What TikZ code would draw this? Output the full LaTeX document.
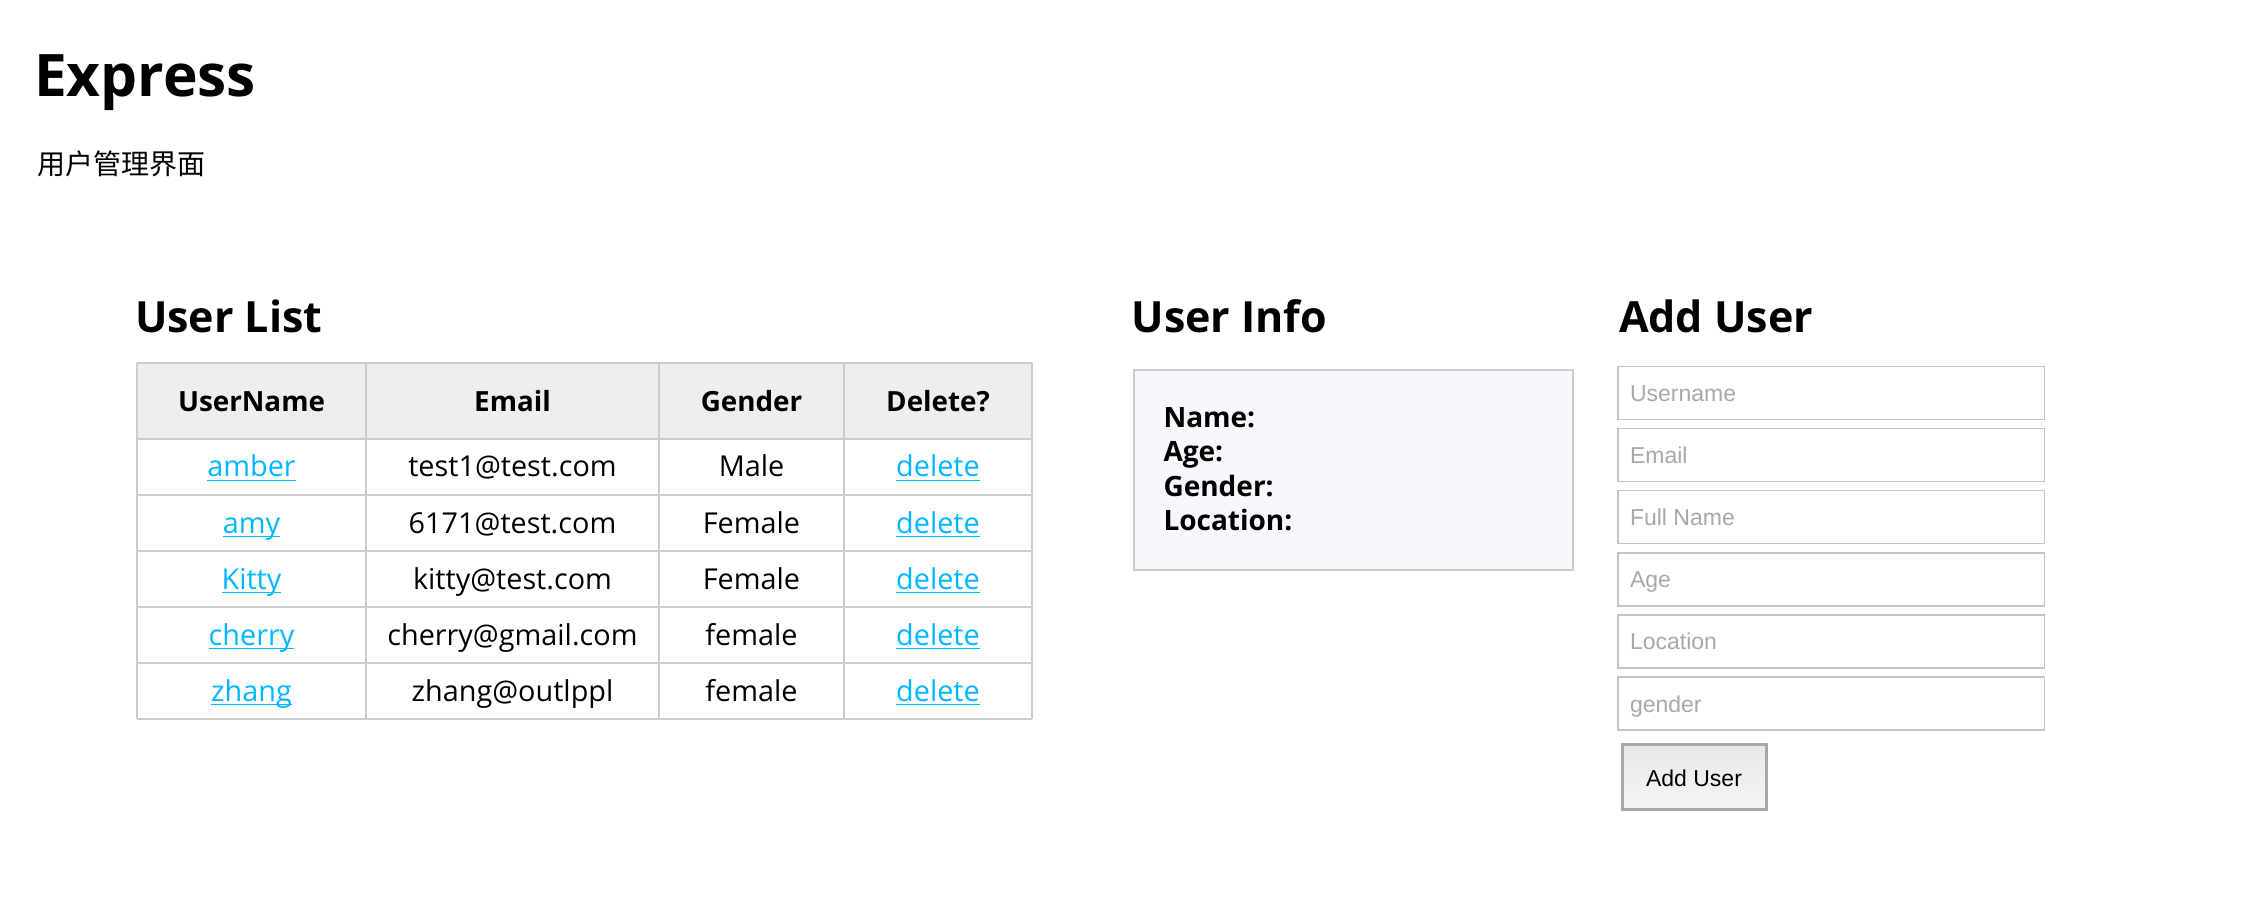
\documentclass[tikz,border=0pt]{standalone}
\usepackage{fontspec}
\setmainfont{Open Sans}
\newfontfamily\cjk{Noto Sans CJK SC}
\newfontfamily\hv{Liberation Sans}
\definecolor{linkc}{HTML}{00B7FF}
\definecolor{gridc}{HTML}{CCCCCC}
\definecolor{headc}{HTML}{EEEEEE}
\definecolor{infofill}{HTML}{F7F8FE}
\definecolor{phgrey}{HTML}{A9A9A9}
\definecolor{fieldc}{HTML}{C4C4C4}
\definecolor{btnborder}{HTML}{A8A8A8}
\begin{document}
\begin{tikzpicture}[x=0.5pt,y=-0.5pt,
  every node/.style={inner sep=0pt, outer sep=0pt},
  h1/.style={anchor=base west, font=\fontsize{29.3}{34}\selectfont\bfseries},
  h2/.style={anchor=base west, font=\fontsize{21.5}{25}\selectfont\bfseries},
  sub/.style={anchor=base west, font=\cjk\fontsize{14}{17}\selectfont},
  th/.style={anchor=base, font=\fontsize{13.9}{17}\selectfont\bfseries},
  td/.style={anchor=base, font=\fontsize{14.4}{17}\selectfont},
  lnk/.style={td, text=linkc},
  ul/.style={draw=linkc, line width=0.8pt},
  grid/.style={draw=gridc, line width=1pt},
  info/.style={anchor=base west, font=\fontsize{14}{17}\selectfont\bfseries},
  field/.style={draw=fieldc, line width=0.75pt, fill=white, anchor=north west, minimum width=213.25pt, minimum height=26.5pt},
  ph/.style={anchor=base west, text=phgrey, font=\hv\fontsize{11.5}{14}\selectfont},
  btn/.style={draw=btnborder, line width=1.5pt, top color=black!9, bottom color=black!4, minimum width=72pt, minimum height=32.5pt},
  btntext/.style={anchor=base, font=\hv\fontsize{11.5}{14}\selectfont}
]
\useasboundingbox (0,0) rectangle (2246,924);

% titles
\node[h1] (title) at (34,97) {Express};
\node[sub] (subtitle) at (37,175) {用户管理界面};
\node[h2] (hlist) at (135,333) {User List};
\node[h2] (hinfo) at (1131.5,333) {User Info};
\node[h2] (hadd) at (1619,333) {Add User};

% table
\fill[headc] (137,363) rectangle (1032,439);
\foreach \y in {363,439,495,551,607,663,719} \draw[grid] (137,\y) -- (1032,\y);
\foreach \x in {137,366,659,844,1032} \draw[grid] (\x,363) -- (\x,719);

\node[th] (th1) at (251.5,412) {UserName};
\node[th] (th2) at (512.5,412) {Email};
\node[th] (th3) at (751.5,412) {Gender};
\node[th] (th4) at (938,412) {Delete?};

\foreach \u/\e/\g/\y [count=\i] in {amber/test1@test.com/Male/477, amy/6171@test.com/Female/533, Kitty/kitty@test.com/Female/589, cherry/cherry@gmail.com/female/645, zhang/zhang@outlppl/female/701}{
  \node[lnk] (u\i) at (251.5,\y) {\u};
  \node[td] (e\i) at (512.5,\y) {\e};
  \node[td] (g\i) at (751.5,\y) {\g};
  \node[lnk] (d\i) at (938,\y) {delete};
  \draw[ul] ([yshift=-1.8pt]u\i.base west) -- ([yshift=-1.8pt]u\i.base east);
  \draw[ul] ([yshift=-1.8pt]d\i.base west) -- ([yshift=-1.8pt]d\i.base east);
}

% user info
\node[draw=gridc, line width=1pt, fill=infofill, anchor=north west, minimum width=219.5pt, minimum height=99.75pt] (ibox) at (1133.5,370) {};
\node[info] (iname) at (1163.5,428) {Name:};
\node[info] (iage) at (1163.5,462) {Age:};
\node[info] (igender) at (1163.5,496) {Gender:};
\node[info] (iloc) at (1163.5,530) {Location:};

% add user form
\foreach \t/\p [count=\i] in {366.5/Username, 428.6/Email, 490.7/Full Name, 552.8/Age, 614.9/Location, 677/gender}{
  \node[field] (f\i) at (1618,\t) {};
  \node[ph] (p\i) at (1630,{\t+35}) {\p};
}
\node[btn] (button) at (1694,776.5) {};
\node[btntext] (buttonlabel) at (1694,786) {Add User};
\end{tikzpicture}
\end{document}
